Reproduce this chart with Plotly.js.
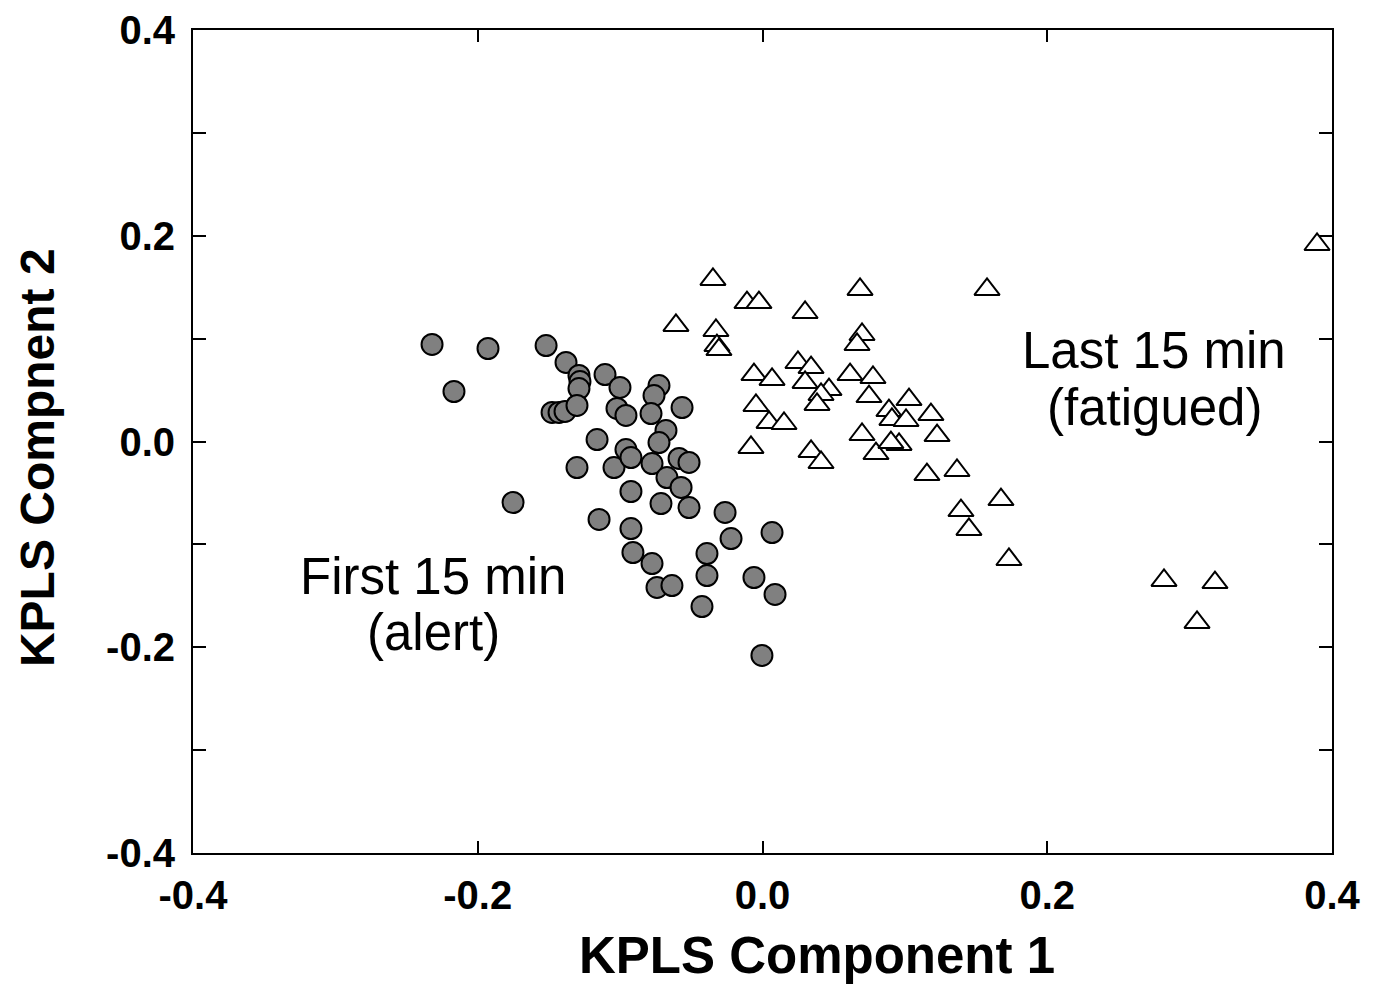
<!DOCTYPE html>
<html>
<head>
<meta charset="utf-8">
<script src="https://cdn.plot.ly/plotly-3.0.1.min.js"></script>
<style>html,body{margin:0;padding:0;background:#fff;}#chart{width:1381px;height:985px;}</style>
</head>
<body>
<div id="chart"></div>
<script>
// First 15 min (alert) — KPLS component scores
const alertX = [-0.2321,-0.2167,-0.1928,-0.1752,-0.1520,-0.1380,-0.1289,-0.1282,-0.1289,-0.1478,-0.1429,-0.1387,-0.1303,-0.1162,-0.1303,-0.1106,-0.1148,-0.1001,-0.1022,-0.0959,-0.1043,-0.0727,-0.0762,-0.0783,-0.0565,-0.0678,-0.0727,-0.0959,-0.0924,-0.0776,-0.0586,-0.0516,-0.0671,-0.0572,-0.0924,-0.0713,-0.0516,-0.0924,-0.0263,-0.0221,0.0067,-0.0910,-0.0776,-0.0390,-0.0390,-0.0741,-0.0636,-0.0060,0.0088,-0.0425,-0.0004];
const alertY = [0.0943,0.0486,0.0904,-0.0593,0.0933,0.0768,0.0642,0.0583,0.0515,0.0282,0.0282,0.0292,0.0350,0.0019,-0.0253,0.0651,-0.0758,0.0525,0.0321,0.0253,-0.0253,0.0544,0.0447,0.0272,0.0330,0.0107,-0.0010,-0.0078,-0.0156,-0.0214,-0.0165,-0.0204,-0.0350,-0.0447,-0.0486,-0.0603,-0.0642,-0.0846,-0.0690,-0.0943,-0.0885,-0.1079,-0.1186,-0.1089,-0.1303,-0.1419,-0.1400,-0.1322,-0.1487,-0.1604,-0.2080];

// Last 15 min (fatigued)
const fatigX = [-0.0348,-0.0608,-0.0109,-0.0025,0.0299,0.0685,0.1577,0.3895,-0.0327,-0.0320,-0.0306,0.0699,0.0664,-0.0060,0.0067,0.0249,0.0341,0.0299,0.0467,0.0411,0.0383,0.0615,0.0776,0.0748,-0.0046,0.0046,0.0151,-0.0081,0.0341,0.0411,0.0699,0.0797,0.0888,0.1029,0.0909,0.1008,0.1183,0.1226,0.0959,0.0902,0.1155,0.1366,0.1675,0.1394,0.1450,0.1731,0.2820,0.3178,0.3052];
const fatigY = [0.1575,0.1128,0.1351,0.1351,0.1254,0.1478,0.1478,0.1915,0.1079,0.0933,0.0894,0.1040,0.0943,0.0651,0.0603,0.0768,0.0719,0.0574,0.0505,0.0457,0.0360,0.0651,0.0622,0.0437,0.0350,0.0185,0.0175,-0.0058,-0.0097,-0.0204,0.0068,-0.0117,0.0301,0.0408,0.0214,0.0204,0.0262,0.0058,-0.0029,-0.0010,-0.0321,-0.0282,-0.0564,-0.0671,-0.0855,-0.1147,-0.1351,-0.1371,-0.1759];

const xTickVals = [-0.4,-0.2,0.0,0.2,0.4];
const xTickText = ["-0.4","-0.2","0.0","0.2","0.4"];
const yTickVals = [-0.4,-0.3,-0.2,-0.1,0.0,0.1,0.2,0.3,0.4];
const yTickText = ["-0.4","","-0.2","","0.0","","0.2","","0.4"];

const xTitle = "KPLS Component 1";
const yTitle = "KPLS Compnent 2";
// group labels, one entry per line, placed in data coordinates
const labelLines = ["First 15 min", "(alert)", "Last 15 min", "(fatigued)"];
const labelX = [-0.2314, -0.2314, 0.275, 0.275];
const labelY = [-0.1312, -0.1857, 0.0885, 0.0330];

const traces = [
  {x: alertX, y: alertY, type: 'scatter', mode: 'markers', name: 'First 15 min (alert)',
   marker: {symbol: 'circle', size: 21, color: '#808080', line: {color: '#000', width: 2}}},
  {x: fatigX, y: fatigY, type: 'scatter', mode: 'markers', name: 'Last 15 min (fatigued)',
   marker: {symbol: 'triangle-up', size: 22, color: '#ffffff', line: {color: '#000', width: 2}}}
];

const fontB = {family: '"Liberation Sans", Arial, sans-serif', color: '#000'};

const annotations = [
  {text: xTitle, xref: 'paper', yref: 'paper', x: 0.548, y: -0.124, xanchor: 'center', yanchor: 'middle',
   showarrow: false, font: Object.assign({size: 51, weight: 'bold'}, fontB)},
  {text: yTitle, xref: 'paper', yref: 'paper', x: -0.137, y: 0.481, xanchor: 'center', yanchor: 'middle',
   textangle: -90, showarrow: false, font: Object.assign({size: 48, weight: 'bold'}, fontB)}
];
labelLines.forEach((t, i) => annotations.push({
  text: t, xref: 'x', yref: 'y', x: labelX[i], y: labelY[i], xanchor: 'center', yanchor: 'middle',
  showarrow: false, font: Object.assign({size: 51}, fontB)
}));

const layout = {
  width: 1381, height: 985,
  margin: {l: 193, r: 49, t: 30, b: 132},
  paper_bgcolor: '#fff', plot_bgcolor: '#fff',
  showlegend: false,
  xaxis: {
    range: [-0.4, 0.4], tickmode: 'array', tickvals: xTickVals, ticktext: xTickText,
    ticks: 'inside', ticklen: 12, tickwidth: 2, tickcolor: '#000',
    showline: true, linewidth: 2, linecolor: '#000', mirror: 'ticks',
    showgrid: false, zeroline: false,
    tickfont: Object.assign({size: 40, weight: 'bold'}, fontB),
    ticklabelstandoff: 6
  },
  yaxis: {
    range: [-0.4, 0.4], tickmode: 'array', tickvals: yTickVals, ticktext: yTickText,
    ticks: 'inside', ticklen: 13, tickwidth: 2, tickcolor: '#000',
    showline: true, linewidth: 2, linecolor: '#000', mirror: 'ticks',
    showgrid: false, zeroline: false,
    tickfont: Object.assign({size: 40, weight: 'bold'}, fontB),
    ticklabelstandoff: 8
  },
  annotations: annotations
};

Plotly.newPlot('chart', traces, layout, {displayModeBar: false, staticPlot: true});
</script>
</body>
</html>
